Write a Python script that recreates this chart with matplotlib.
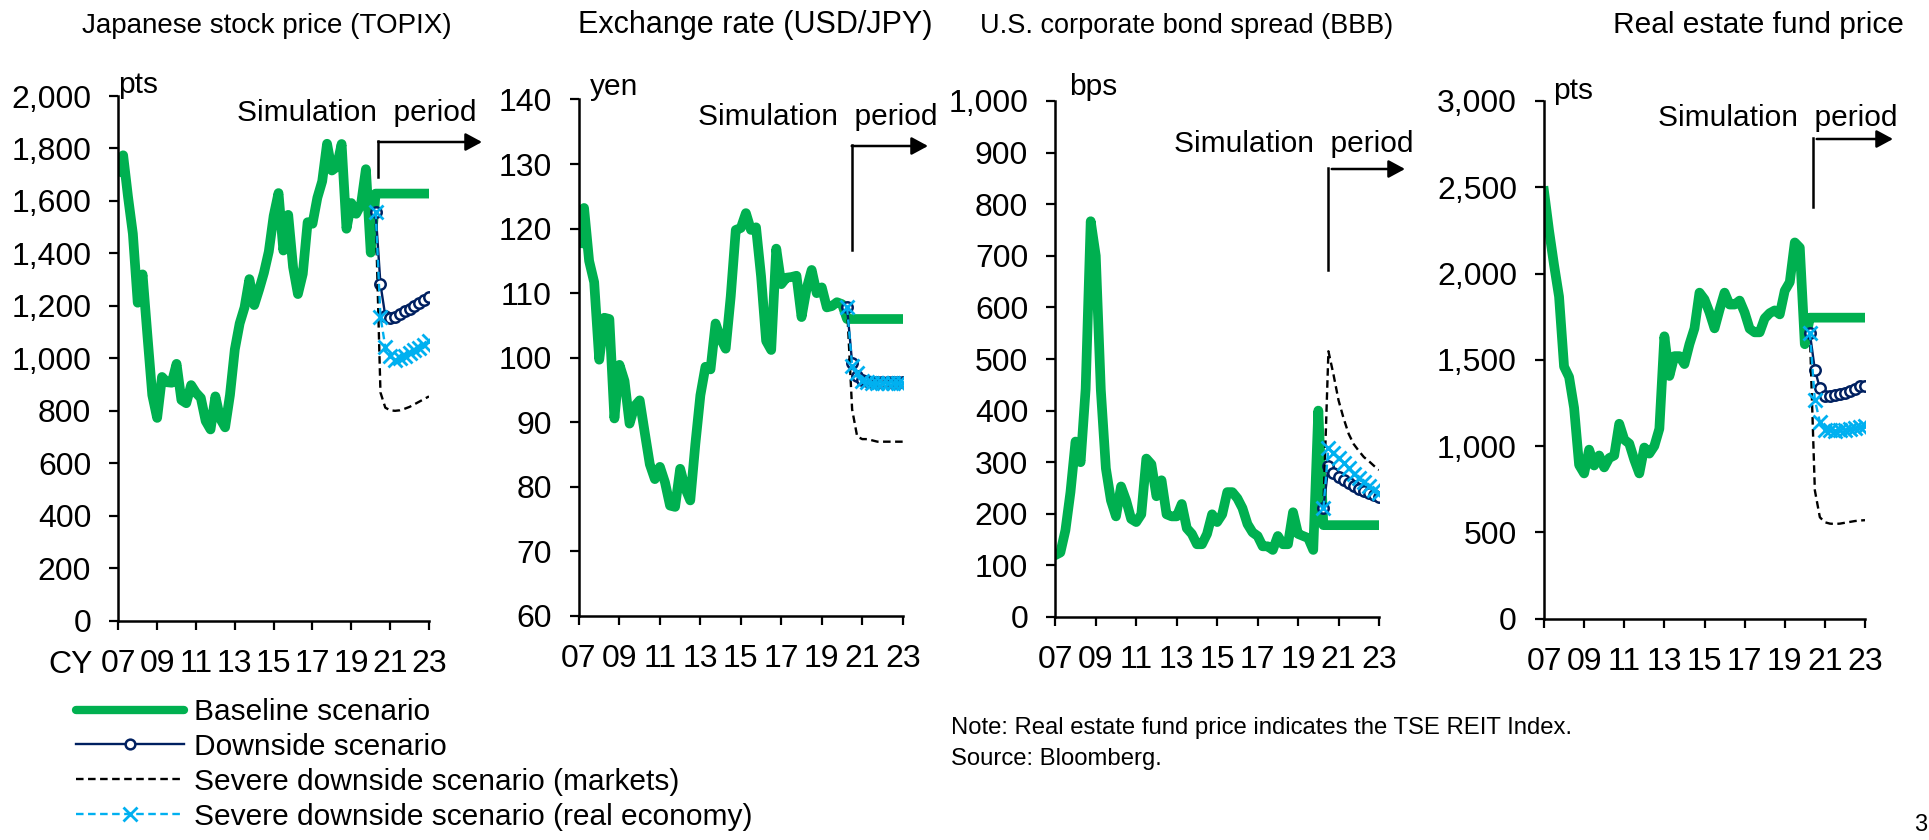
import numpy as np
import matplotlib.pyplot as plt
from matplotlib.lines import Line2D
from matplotlib.ticker import FuncFormatter

plt.rcParams['font.family'] = ['Liberation Sans', 'DejaVu Sans']

# quarterly history, 2007Q1 .. 2020Q1 (quarter-end values)
topix_hist = [1713, 1774, 1616, 1475, 1212, 1320, 1087, 860, 773, 929, 909, 907,
              979, 841, 829, 898, 869, 849, 761, 729, 855, 770, 737, 860,
              1034, 1133, 1194, 1302, 1203, 1262, 1326, 1407, 1543, 1630, 1411, 1547,
              1348, 1245, 1322, 1519, 1513, 1612, 1675, 1818, 1716, 1730, 1817, 1494,
              1592, 1551, 1587, 1721, 1403]
usdjpy_hist = [117.8, 123.2, 115.0, 111.7, 99.7, 106.2, 106.0, 90.6, 98.9, 96.4, 89.8, 92.5,
               93.4, 88.4, 83.5, 81.2, 83.1, 80.7, 77.1, 76.9, 82.8, 79.8, 77.9, 86.6,
               94.2, 98.6, 98.2, 105.3, 103.0, 101.4, 109.5, 119.8, 120.1, 122.4, 119.8, 120.2,
               112.6, 102.6, 101.2, 116.9, 111.4, 112.4, 112.5, 112.7, 106.3, 110.7, 113.6, 110.0,
               110.9, 107.8, 108.0, 108.6, 108.3]
bbb_hist = [120, 125, 168, 242, 340, 300, 442, 767, 700, 440, 288, 226,
            195, 253, 226, 190, 184, 199, 307, 296, 234, 265, 199, 195,
            195, 219, 172, 161, 141, 141, 161, 199, 184, 199, 242, 242,
            230, 211, 180, 164, 157, 137, 137, 130, 157, 141, 141, 203,
            161, 157, 153, 130, 400]
reit_hist = [2477, 2250, 2050, 1866, 1460, 1400, 1221, 890, 841, 979, 887, 945,
             876, 930, 945, 1129, 1037, 1014, 920, 841, 991, 956, 1000, 1100,
             1636, 1406, 1521, 1521, 1475, 1590, 1682, 1889, 1850, 1774, 1682, 1790,
             1889, 1820, 1820, 1843, 1774, 1680, 1659, 1659, 1740, 1770, 1786, 1763,
             1900, 1950, 2180, 2150, 1590]

# simulation period, 2020Q2 .. 2023Q1
topix_base = [1628] * 12
topix_down = [1559, 1283, 1161, 1152, 1158, 1168, 1180, 1190, 1200, 1210, 1222, 1233]
topix_mkt = [1559, 870, 812, 802, 800, 802, 808, 815, 825, 835, 845, 855]
topix_real = [1559, 1159, 1044, 1010, 995, 1000, 1010, 1020, 1030, 1040, 1052, 1065]

usdjpy_base = [106.0] * 12
usdjpy_down = [107.8, 99.2, 97.2, 96.5, 96.4, 96.3, 96.3, 96.3, 96.3, 96.3, 96.3, 96.3]
usdjpy_mkt = [107.8, 92.0, 87.8, 87.4, 87.4, 87.2, 87.0, 87.0, 87.0, 87.0, 87.0, 87.0]
usdjpy_real = [107.8, 98.7, 97.6, 96.4, 96.2, 96.1, 96.1, 96.1, 96.1, 96.1, 96.1, 96.1]

bbb_base = [178] * 12
bbb_down = [211, 292, 280, 272, 265, 259, 254, 249, 245, 241, 237, 233]
bbb_mkt = [211, 515, 470, 420, 385, 355, 335, 322, 310, 302, 293, 285]
bbb_real = [211, 328, 318, 308, 298, 288, 278, 270, 262, 254, 247, 240]

reit_base = [1744] * 12
reit_down = [1656, 1442, 1336, 1291, 1290, 1295, 1300, 1310, 1320, 1333, 1345, 1348]
reit_mkt = [1656, 743, 587, 558, 550, 548, 550, 555, 560, 565, 568, 570]
reit_real = [1656, 1267, 1141, 1095, 1090, 1088, 1090, 1095, 1100, 1105, 1110, 1115]

titles = ['Japanese stock price (TOPIX)', 'Exchange rate (USD/JPY)',
          'U.S. corporate bond spread (BBB)', 'Real estate fund price']
units = ['pts', 'yen', 'bps', 'pts']
ylims = [(0, 2000, 200), (60, 140, 10), (0, 1000, 100), (0, 3000, 500)]
series = [
    (topix_hist, topix_base, topix_down, topix_mkt, topix_real),
    (usdjpy_hist, usdjpy_base, usdjpy_down, usdjpy_mkt, usdjpy_real),
    (bbb_hist, bbb_base, bbb_down, bbb_mkt, bbb_real),
    (reit_hist, reit_base, reit_down, reit_mkt, reit_real),
]
labels = ['Baseline scenario', 'Downside scenario',
          'Severe downside scenario (markets)', 'Severe downside scenario (real economy)']

GREEN = '#00B050'
NAVY = '#002060'
LBLUE = '#00B0F0'

W, H = 1929, 840
fig = plt.figure(figsize=(W / 100, H / 100), dpi=100)


def fx(px):
    return px / W


def fy(py):
    return 1 - py / H


# pixel layout of each panel: axes box, title, unit, "Simulation period" text and arrow
layout = [
    dict(box=(118.3, 96, 429, 620.7), title=(82, 'left', 20), unit=(118, 93),
         sim=(237, 121), arrow=(378.3, 177, 142, 378.3, 482)),
    dict(box=(579, 99.5, 902.7, 616), title=(578, 'left', 22), unit=(590, 95),
         sim=(698, 125), arrow=(851.7, 250, 146, 851.7, 928)),
    dict(box=(1055.3, 101, 1379, 617), title=(980, 'left', 19.5), unit=(1069, 95),
         sim=(1174, 152), arrow=(1328.3, 270, 169, 1331.7, 1405)),
    dict(box=(1544, 101, 1865, 618.5), title=(1904, 'right', 21.5), unit=(1553, 99),
         sim=(1658, 126), arrow=(1813.3, 207, 139, 1816.7, 1893)),
]

FS = 21.5
TICK_FS = 23
quarters = 2007 + np.arange(65) / 4
sim_q = quarters[-12:]

for k in range(4):
    hist, base, down, mkt, real = series[k]
    lo = layout[k]
    l, t, r, b = lo['box']
    ax = fig.add_axes([fx(l), fy(b), (r - l) / W, (b - t) / H])

    ax.plot(quarters, list(hist) + list(base), color=GREEN, lw=7,
            solid_joinstyle='round', zorder=2)
    ax.plot(sim_q, down, color=NAVY, lw=1.7, marker='o', ms=7.5, mfc='white',
            mec=NAVY, mew=1.8, zorder=3)
    ax.plot(sim_q, mkt, color='black', lw=1.7, ls=(0, (3.2, 1.9)), zorder=4)
    ax.plot(sim_q, real, color=LBLUE, lw=1.7, ls=(0, (3.2, 1.9)), marker='x',
            ms=9.5, mew=2, zorder=5)

    y0, y1, step = ylims[k]
    ax.set_ylim(y0, y1)
    ax.set_yticks(np.arange(y0, y1 + step / 2, step))
    ax.yaxis.set_major_formatter(FuncFormatter(lambda v, p: f'{v:,.0f}'))
    ax.set_xlim(2007, 2023)
    ax.set_xticks(np.arange(2007, 2024, 2))
    ax.set_xticklabels([f'{y % 100:02d}' for y in range(2007, 2024, 2)])

    for side in ['top', 'right']:
        ax.spines[side].set_visible(False)
    for side in ['left', 'bottom']:
        ax.spines[side].set_linewidth(1.8)
    ax.tick_params(direction='out', length=6.5, width=1.6, labelsize=TICK_FS)
    ax.tick_params(axis='x', pad=14)
    ax.tick_params(axis='y', pad=13)
    ax.patch.set_alpha(0)

    tx, tha, tfs = lo['title']
    fig.text(fx(tx), fy(33), titles[k], fontsize=tfs, ha=tha, va='baseline')
    fig.text(fx(lo['unit'][0]), fy(lo['unit'][1]), units[k], fontsize=FS,
             ha='left', va='baseline')
    fig.text(fx(lo['sim'][0]), fy(lo['sim'][1]), 'Simulation  period', fontsize=FS,
             ha='left', va='baseline')

    xv, yb, yt, xh, xtip = lo['arrow']
    fig.add_artist(Line2D([fx(xv), fx(xv)], [fy(yb), fy(yt - 1)], transform=fig.transFigure,
                          color='black', lw=1.8))
    ax.annotate('', xy=(fx(xtip), fy(yt)), xytext=(fx(xh), fy(yt)),
                xycoords='figure fraction', textcoords='figure fraction',
                annotation_clip=False,
                arrowprops=dict(arrowstyle='-|>,head_length=0.5,head_width=0.27',
                                color='black', lw=1.8, mutation_scale=20,
                                shrinkA=0, shrinkB=0))

fig.text(fx(48), fy(665), 'CY', fontsize=TICK_FS, ha='left', va='center')

handles = [
    Line2D([], [], color=GREEN, lw=6, solid_capstyle='round'),
    Line2D([], [], color=NAVY, lw=1.7, marker='o', ms=7, mfc='white', mec=NAVY, mew=1.8),
    Line2D([], [], color='black', lw=1.7, ls=(0, (3.2, 1.9))),
    Line2D([], [], color=LBLUE, lw=1.7, ls=(0, (3.2, 1.9)), marker='x', ms=9.5, mew=2),
]
fig.legend(handles, labels, loc='upper left', bbox_to_anchor=(fx(76), fy(698)),
           frameon=False, fontsize=FS, handlelength=3.6, handletextpad=0.35,
           labelspacing=0.23, borderpad=0, borderaxespad=0, numpoints=1)

fig.text(fx(951), fy(728), 'Note: Real estate fund price indicates the TSE REIT Index.',
         fontsize=17.2, ha='left', va='center')
fig.text(fx(951), fy(759), 'Source: Bloomberg.', fontsize=17.2, ha='left', va='center')
fig.text(fx(1927), fy(825), '3', fontsize=17, ha='right', va='center')

fig.savefig('out.png', dpi=100)
